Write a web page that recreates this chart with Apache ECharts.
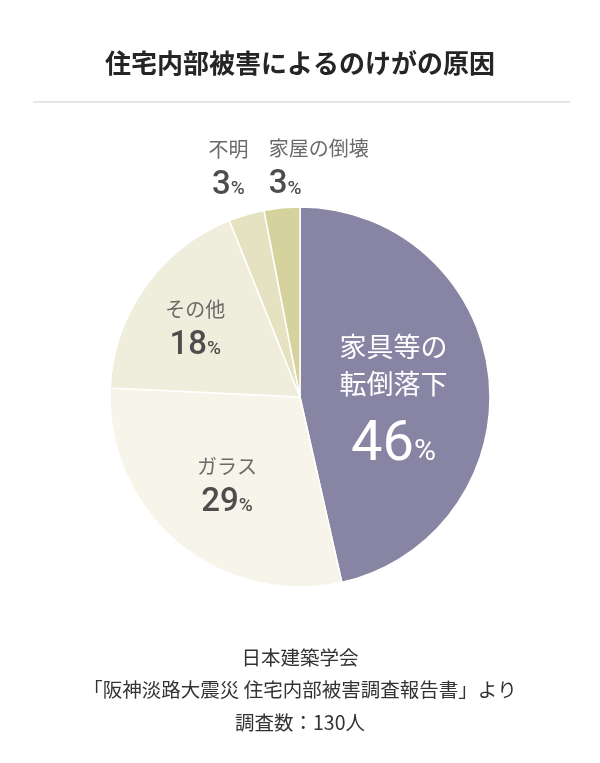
<!DOCTYPE html>
<html>
<head>
<meta charset="utf-8">
<script src="https://cdn.jsdelivr.net/npm/echarts@6/dist/echarts.min.js"></script>
<style>
html,body{margin:0;padding:0;background:#fff;}
#c{width:600px;height:763px;}
</style>
</head>
<body>
<div id="c"></div>
<script>
const titleText = '住宅内部被害によるのけがの原因';
const categories = ['家具等の転倒落下', 'ガラス', 'その他', '不明', '家屋の倒壊'];
const labelNames = [['家具等の', '転倒落下'], ['ガラス'], ['その他'], ['不明'], ['家屋の倒壊']];
const values = [46, 29, 18, 3, 3];
const sourceLines = ['日本建築学会', '「阪神淡路大震災 住宅内部被害調査報告書」より', '調査数：130人'];

const colors = ['#8884a3', '#f7f4e9', '#efeddb', '#e4e2c0', '#d5d29d'];
const FONT = '"Noto Sans CJK JP", "Noto Sans", sans-serif';
const NUMFONT = 'Roboto, "Noto Sans", sans-serif';

const labelCfg = [
  {offset: [-4, 19], big: true},
  {offset: [-10, 13]},
  {offset: [-25, -12]},
  {offset: [-44, -135]},
  {offset: [28, -132], left: true}
];

function makeLabel(i) {
  const cfg = labelCfg[i];
  const names = labelNames[i];
  let fmt;
  if (cfg.big) {
    fmt = names.map(n => '{bn|' + n + '}').join('\n') + '\n{bnum|' + values[i] + '}{bpct|%}';
  } else if (cfg.left) {
    fmt = names.map(n => '{n|' + n + '}').join('\n') + '\n{numl|' + values[i] + '}{pctl|%}';
  } else {
    fmt = names.map(n => '{n|' + n + '}').join('\n') + '\n{num|' + values[i] + '}{pct|%}';
  }
  return {
    show: true,
    position: 'inside',
    offset: cfg.offset,
    formatter: fmt,
    rich: {
      bn: {fontFamily: FONT, fontSize: 27, color: '#ffffff', lineHeight: 37, align: 'center'},
      bnum: {fontFamily: NUMFONT, fontSize: 56, color: '#ffffff', lineHeight: 79, verticalAlign: 'bottom', padding: [0, 0, 8, 0]},
      bpct: {fontFamily: NUMFONT, fontSize: 30, color: '#ffffff', lineHeight: 79, verticalAlign: 'bottom', padding: [0, 0, 14, 0]},
      n: {fontFamily: FONT, fontSize: 20, color: '#6a6a6a', lineHeight: 30, align: 'center'},
      num: {fontFamily: NUMFONT, fontSize: 33, fontWeight: 500, color: '#4d4d4d', lineHeight: 38, verticalAlign: 'bottom'},
      pct: {fontFamily: NUMFONT, fontSize: 19, fontWeight: 500, color: '#4d4d4d', lineHeight: 38, verticalAlign: 'bottom', padding: [0, 0, 3, 0]},
      numl: {fontFamily: NUMFONT, fontSize: 33, fontWeight: 500, color: '#4d4d4d', lineHeight: 38, verticalAlign: 'bottom', align: 'left'},
      pctl: {fontFamily: NUMFONT, fontSize: 19, fontWeight: 500, color: '#4d4d4d', lineHeight: 38, verticalAlign: 'bottom', align: 'left', padding: [0, 0, 3, 0]}
    }
  };
}

const chart = echarts.init(document.getElementById('c'), null, {renderer: 'canvas'});
chart.setOption({
  backgroundColor: '#ffffff',
  animation: false,
  title: {
    text: titleText,
    left: 'center',
    top: 45,
    textStyle: {fontFamily: FONT, fontSize: 26, fontWeight: 'bold', color: '#252525'}
  },
  graphic: [
    {type: 'line', shape: {x1: 33, y1: 102, x2: 570, y2: 102}, style: {stroke: '#e6e6e6', lineWidth: 2}},
    ...sourceLines.map((t, i) => ({
      type: 'text', x: 300, y: [658, 690, 723][i],
      style: {text: t, fontFamily: FONT, fontSize: 19.5, fill: '#333333', align: 'center', verticalAlign: 'middle'}
    }))
  ],
  series: [{
    type: 'pie',
    center: [300, 397],
    radius: [0, 190],
    startAngle: 90,
    clockwise: true,
    avoidLabelOverlap: false,
    labelLine: {show: false},
    itemStyle: {borderColor: '#ffffff', borderWidth: 1.5},
    emphasis: {disabled: true},
    data: categories.map((c, i) => ({
      name: c,
      value: values[i],
      itemStyle: {color: colors[i]},
      label: makeLabel(i)
    }))
  }]
});
</script>
</body>
</html>
